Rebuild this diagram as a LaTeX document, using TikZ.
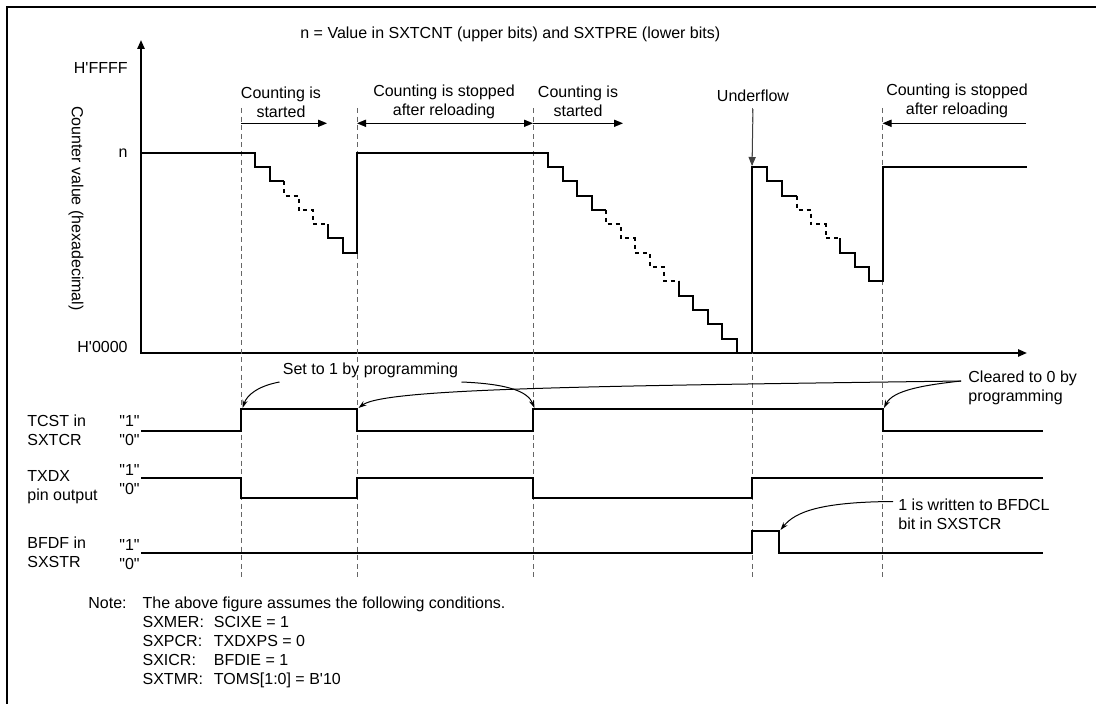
\documentclass[tikz,border=0pt]{standalone}
\usepackage{fontspec}
\setmainfont{Liberation Sans}[Ligatures=TeXOff]
\usepackage{tikz}
\usetikzlibrary{arrows.meta,calc}
\tikzset{
  timing-text/.style={font=\fontsize{8}{9.5}\selectfont, inner sep=0pt},
  timing-wave/.style={line width=1pt, line join=miter},
  timing-step/.style={line width=1pt, dash pattern=on 2pt off 2pt},
  timing-guide/.style={black!60, line width=0.5pt, dash pattern=on 2.5pt off 1.8pt},
  timing-axis/.style={line width=1pt},
  timing-span/.style={line width=0.5pt},
  timing-callout/.style={line width=0.5pt, -{Stealth[length=4pt,width=2.6pt]}}
}

\begin{document}
\begin{tikzpicture}[x=0.5pt, y=-0.5pt, >={Triangle[length=4.5pt,width=3.6pt]}]
  \useasboundingbox (0,0) rectangle (1096,704);
  \draw[line width=1pt] (7,704) -- (7,7) -- (1096,7);

  % Caption and axis labels
  \node[timing-text, anchor=west] (caption) at (300,34)
    {n = Value in SXTCNT (upper bits) and SXTPRE (lower bits)};
  \node[timing-text, anchor=east] (ffff) at (128,68) {H'FFFF};
  \node[timing-text, anchor=east] (nval) at (128,153) {n};
  \node[timing-text, anchor=east] (zero) at (128,347) {H'0000};
  \node[timing-text, rotate=-90] (yname) at (76,208.5) {Counter value (hexadecimal)};

  % Axes
  \coordinate (origin) at (141,353);
  \coordinate (ytip) at (141,40);
  \coordinate (xtip) at (1027,353);
  \draw[timing-axis, <->] (ytip) -- (origin) -- (xtip);

  % Guides
  \draw[timing-guide] (241,108) -- (241,577);
  \draw[timing-guide] (357,108) -- (357,577);
  \draw[timing-guide] (533,108) -- (533,577);
  \draw[timing-guide] (752,108) -- (752,577);
  \draw[timing-guide] (882.5,108) -- (882.5,577);

  % Counting intervals
  \node[timing-text, align=center] (start-a) at (281,102) {Counting is\\started};
  \node[timing-text, align=center] (stop-a) at (444,101.5) {Counting is stopped\\after reloading};
  \node[timing-text, align=center] (start-b) at (578,101.5) {Counting is\\started};
  \node[timing-text, inner sep=3.5pt] (uflow) at (753,96) {Underflow};
  \node[timing-text, align=center] (stop-b) at (957,101) {Counting is stopped\\after reloading};

  \coordinate (span-a1) at (241,123.3);
  \coordinate (span-a2) at (327,123.3);
  \coordinate (span-b1) at (357,123.3);
  \coordinate (span-b2) at (533,123.3);
  \coordinate (span-c2) at (623,123.3);
  \coordinate (span-d1) at (882.5,123.3);
  \coordinate (span-d2) at (1026,123.3);
  \coordinate (uflow-top) at (752,166);
  \draw[timing-span, ->] (span-a1) -- (span-a2);
  \draw[timing-span, <->] (span-b1) -- (span-b2);
  \draw[timing-span, ->] (span-b2) -- (span-c2);
  \draw[timing-span, ->] (span-d2) -- (span-d1);
  \draw[timing-span, ->, black!75] (uflow.south) -- (uflow-top);

  % Counter value
  \draw[timing-wave] (141,152.7) -- (255,152.7) |- (269.5,167) |- (284,181.3);
  \draw[timing-step] (284,181.3) |- (298.5,195.6) |- (313,209.9) |- (328,224.2);
  \draw[timing-wave] (328,224.2) |- (342.5,238.5) |- (357,252.8) -- (357,152.7) -- (548,152.7)
    |- (562.5,167) |- (577,181.3) |- (591.5,195.6) |- (606,209.9);
  \draw[timing-step] (606,209.9) |- (620.5,224.2) |- (635,238.5) |- (649.5,252.8)
    |- (664,267.1) |- (678.5,281.4);
  \draw[timing-wave] (678.5,281.4) |- (693,295.7) |- (707.5,310) |- (722,324.3)
    |- (736.5,338.6) -- (736.5,353);
  \draw[timing-wave] (752,353) -- (752,167) -- (767,167) |- (782,181.3) |- (797,195.6);
  \draw[timing-step] (797,195.6) |- (811,209.9) |- (825.5,224.2) |- (840,238.5);
  \draw[timing-wave] (840,238.5) |- (854.5,252.8) |- (869,267.1) |- (882.5,281.4)
    -- (882.5,167) -- (1027,167);

  % Signals
  \node[timing-text, anchor=west, align=left] (tcst-name) at (27,430.5) {TCST in\\SXTCR};
  \node[timing-text, anchor=west, align=left] (txdx-name) at (27,487) {TXDX\\pin output};
  \node[timing-text, anchor=west, align=left] (bfdf-name) at (27,552.5) {BFDF in\\SXSTR};
  \node[timing-text, anchor=east, align=right] (tcst-lv) at (140,431) {"1"\\"0"};
  \node[timing-text, anchor=east, align=right] (txdx-lv) at (140,480) {"1"\\"0"};
  \node[timing-text, anchor=east, align=right] (bfdf-lv) at (140,555) {"1"\\"0"};

  \draw[timing-wave] (141,431) -| (241,409.3) -| (357,431) -| (533,409.3) -| (882.5,431) -- (1043,431);
  \draw[timing-wave] (141,477.7) -| (241,498.3) -| (357,477.7) -| (533,498.3) -| (752,477.7) -- (1043,477.7);
  \draw[timing-wave] (141,552.7) -| (752,530.7) -| (779.3,552.7) -- (1043,552.7);

  % Callouts
  \coordinate (tcst-up1) at (242.5,408);
  \coordinate (tcst-dn1) at (358.5,408);
  \coordinate (tcst-up2) at (534.5,408);
  \coordinate (tcst-dn2) at (884,408);
  \coordinate (bfdf-dn) at (780.5,530);
  \node[timing-text] (set-one) at (370.5,370) {Set to 1 by programming};
  \node[timing-text, anchor=west, align=left] (clear-zero) at (968,388) {Cleared to 0 by\\programming};
  \node[timing-text, anchor=west, align=left] (bfdcl) at (898,514.5) {1 is written to BFDCL\\bit in SXSTCR};
  \draw[timing-callout] ($(set-one.west)+(-3,12)$) .. controls (258,386) and (247,395) .. (tcst-up1);
  \draw[timing-callout] ($(set-one.east)+(3,12)$) .. controls (510,384) and (528,392) .. (tcst-up2);
  \draw[timing-callout] ($(clear-zero.west)+(-7,-7)$) .. controls (925,385) and (893,390) .. (tcst-dn2);
  \draw[timing-callout] ($(clear-zero.west)+(-7,-7)$) .. controls (600,386) and (385,388) .. (tcst-dn1);
  \draw[timing-callout] ($(bfdcl.west)+(-5,-13)$) .. controls (820,502) and (795,512) .. (bfdf-dn);

  % Note
  \node[timing-text, anchor=west] (note) at (88,643)
    {\begin{tabular}{@{}l@{\hspace{8pt}}l@{\hspace{5pt}}l@{}}
      Note: & \multicolumn{2}{@{}l@{}}{The above figure assumes the following conditions.}\\
      & SXMER: & SCIXE = 1\\
      & SXPCR: & TXDXPS = 0\\
      & SXICR: & BFDIE = 1\\
      & SXTMR: & TOMS[1:0] = B'10
    \end{tabular}};
\end{tikzpicture}
\end{document}
